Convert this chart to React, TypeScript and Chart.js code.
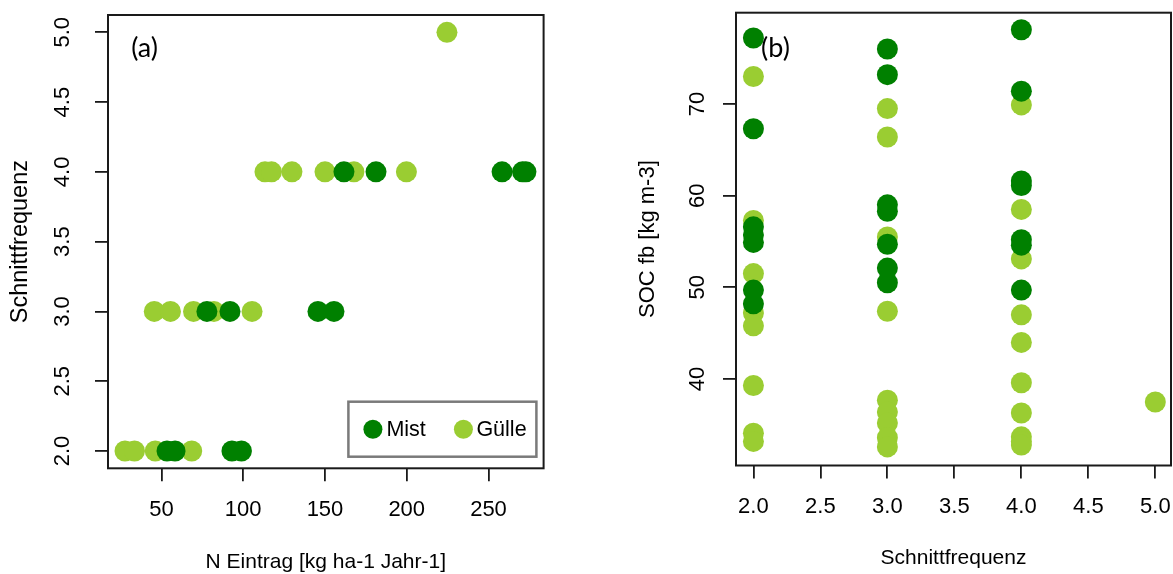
import React, { useEffect, useRef } from "react";
import { Chart, registerables } from "chart.js";

Chart.register(...registerables);

const FONT = "'Liberation Sans', Arial, sans-serif";
const PANEL_FONT = "Lato, 'Open Sans', sans-serif";
const MIST_COLOR = "#008000";
const GUELLE_COLOR = "#9ACD32";
const AXIS_COLOR = "#1a1a1a";
const SERIES_NAMES = ["Mist", "Gülle"];

// ---------- Panel (a): N Eintrag vs Schnittfrequenz ----------
const mistA_nEintrag = [53.4, 58.3, 93.1, 98.9, 77.8, 91.9, 145.7, 155.5, 161.6, 181.2, 258.3, 270.8, 272.9];
const mistA_schnitt = [2, 2, 2, 2, 3, 3, 3, 3, 4, 4, 4, 4, 4];
const guelleA_nEintrag = [27.7, 33.5, 46.2, 68.5, 45.6, 55.5, 69.6, 82.1, 105.4, 113.3, 117.3, 129.8, 150.0, 167.7, 199.8, 224.6];
const guelleA_schnitt = [2, 2, 2, 2, 3, 3, 3, 3, 3, 4, 4, 4, 4, 4, 4, 5];
const xTicksA = [50, 100, 150, 200, 250];
const yTicksA = [2.0, 2.5, 3.0, 3.5, 4.0, 4.5, 5.0];
const xRangeA = [17.3, 283.7];
const yRangeA = [1.876, 5.124];
const xTitleA = "N Eintrag [kg ha-1 Jahr-1]";
const yTitleA = "Schnittfrequenz";

// ---------- Panel (b): Schnittfrequenz vs SOC fb ----------
const mistB_schnitt = [2, 2, 2, 2, 2, 2, 2, 3, 3, 3, 3, 3, 3, 3, 4, 4, 4, 4, 4, 4, 4];
const mistB_soc = [77.2, 67.3, 56.6, 55.7, 54.9, 49.7, 48.2, 76.0, 73.2, 59.0, 58.3, 54.7, 52.1, 50.5, 78.1, 71.4, 61.6, 61.1, 55.2, 54.6, 49.7];
const guelleB_schnitt = [2, 2, 2, 2, 2, 2, 2, 2, 3, 3, 3, 3, 3, 3, 3, 3, 3, 4, 4, 4, 4, 4, 4, 4, 4, 4, 4, 5];
const guelleB_soc = [73.0, 57.3, 51.5, 47.2, 45.8, 39.3, 34.1, 33.2, 69.5, 66.4, 55.5, 47.4, 37.7, 36.4, 35.2, 33.6, 32.6, 69.9, 58.5, 53.1, 47.0, 44.0, 39.6, 36.3, 33.7, 33.2, 32.8, 37.5];
const xTicksB = [2.0, 2.5, 3.0, 3.5, 4.0, 4.5, 5.0];
const yTicksB = [40, 50, 60, 70];
const xRangeB = [1.87, 5.117];
const yRangeB = [30.57, 79.96];
const xTitleB = "Schnittfrequenz";
const yTitleB = "SOC fb [kg m-3]";

const toPoints = (xs: number[], ys: number[]) => xs.map((x, i) => ({ x, y: ys[i] }));

const decorPlugin = {
  id: "decor",
  afterDraw(chart: any, _args: any, o: any) {
    const { ctx, chartArea: ca } = chart;
    ctx.save();
    // plot box
    ctx.strokeStyle = AXIS_COLOR;
    ctx.lineWidth = 2;
    ctx.strokeRect(ca.left, ca.top, ca.right - ca.left, ca.bottom - ca.top);

    // rotated y tick labels (R style), positioned by the y scale
    const ys = chart.scales.y;
    ctx.fillStyle = "#000";
    ctx.font = `22px ${FONT}`;
    ctx.textAlign = "center";
    ctx.textBaseline = "middle";
    ys.ticks.forEach((t: any) => {
      const py = ys.getPixelForValue(t.value);
      ctx.save();
      ctx.translate(ca.left - o.yLabelOffset, py);
      ctx.rotate(-Math.PI / 2);
      ctx.fillText(o.yFmt(t.value), 0, 0);
      ctx.restore();
    });

    // panel label
    ctx.font = `27px ${PANEL_FONT}`;
    ctx.fillStyle = "#000";
    ctx.fillText(o.panelLabel, ca.left + o.panelDx, ca.top + o.panelDy);

    // legend
    if (o.legend) {
      const w = 188;
      const h = 55;
      const right = ca.right - 7.2;
      const bottom = ca.bottom - 11.6;
      const left = right - w;
      const top = bottom - h;
      ctx.fillStyle = "#fff";
      ctx.fillRect(left, top, w, h);
      ctx.strokeStyle = "#7a7a7a";
      ctx.lineWidth = 2.5;
      ctx.strokeRect(left, top, w, h);
      const cy = top + h / 2;
      const items = [
        { dx: 24.5, tx: 38, color: chart.data.datasets[0].backgroundColor, text: chart.data.datasets[0].label },
        { dx: 115, tx: 128, color: chart.data.datasets[1].backgroundColor, text: chart.data.datasets[1].label },
      ];
      ctx.font = `21.5px ${FONT}`;
      ctx.textAlign = "left";
      ctx.textBaseline = "middle";
      items.forEach((it) => {
        ctx.beginPath();
        ctx.fillStyle = it.color;
        ctx.arc(left + it.dx, cy, 9.5, 0, Math.PI * 2);
        ctx.fill();
        ctx.fillStyle = "#000";
        ctx.fillText(it.text, left + it.tx, cy + 1);
      });
    }
    ctx.restore();
  },
};

function buildConfig(p: any) {
  const H = 574;
  const gridOpts = {
    display: true,
    drawOnChartArea: false,
    drawTicks: true,
    tickLength: 13,
    color: AXIS_COLOR,
    tickColor: AXIS_COLOR,
    lineWidth: 1.8,
    tickWidth: 1.8,
  };
  return {
    type: "scatter" as const,
    data: {
      datasets: [
        {
          label: SERIES_NAMES[0],
          data: toPoints(p.mistX, p.mistY),
          backgroundColor: MIST_COLOR,
          borderWidth: 0,
          pointRadius: 10.5,
          pointHoverRadius: 10.5,
          clip: false,
        },
        {
          label: SERIES_NAMES[1],
          data: toPoints(p.guelleX, p.guelleY),
          backgroundColor: GUELLE_COLOR,
          borderWidth: 0,
          pointRadius: 10.5,
          pointHoverRadius: 10.5,
          clip: false,
        },
      ],
    },
    options: {
      responsive: false,
      animation: false,
      devicePixelRatio: 1,
      events: [],
      layout: {
        autoPadding: false,
        padding: { left: 0, top: p.area.top, right: p.width - p.area.right, bottom: 0 },
      },
      plugins: {
        legend: { display: false },
        tooltip: { enabled: false },
        decor: {
          yLabelOffset: p.yLabelOffset,
          yFmt: p.yFmt,
          panelLabel: p.panelLabel,
          panelDx: p.panelDx,
          panelDy: p.panelDy,
          legend: p.legend,
        },
      },
      scales: {
        x: {
          type: "linear",
          position: "bottom",
          min: p.xRange[0],
          max: p.xRange[1],
          afterBuildTicks: (s: any) => {
            s.ticks = p.xTicks.map((v: number) => ({ value: v }));
          },
          afterFit: (s: any) => {
            s.height = H - p.area.bottom;
            s.paddingLeft = 0;
            s.paddingRight = 0;
          },
          grid: gridOpts,
          border: { display: false },
          ticks: {
            callback: (v: number) => p.xFmt(v),
            font: { family: FONT, size: 22, lineHeight: 1 },
            color: "#000",
            padding: 17.7,
            maxRotation: 0,
            minRotation: 0,
            autoSkip: false,
          },
          title: {
            display: true,
            text: p.xTitle,
            color: "#000",
            font: { family: FONT, size: 21, lineHeight: 1 },
            padding: { top: 0, bottom: p.xTitlePad },
          },
        },
        y: {
          type: "linear",
          position: "left",
          min: p.yRange[0],
          max: p.yRange[1],
          afterBuildTicks: (s: any) => {
            s.ticks = p.yTicks.map((v: number) => ({ value: v }));
          },
          afterFit: (s: any) => {
            s.width = p.area.left;
            s.paddingTop = 0;
            s.paddingBottom = 0;
          },
          grid: gridOpts,
          border: { display: false },
          ticks: { display: false, callback: (v: number) => p.yFmt(v) },
          title: {
            display: true,
            text: p.yTitle,
            color: "#000",
            font: { family: FONT, size: p.yTitleSize, lineHeight: 1 },
            padding: { top: p.yTitlePad, bottom: 0 },
          },
        },
      },
    },
    plugins: [decorPlugin],
  };
}

const panelA = {
  width: 580,
  area: { left: 108, right: 543.6, top: 15, bottom: 468.3 },
  mistX: mistA_nEintrag,
  mistY: mistA_schnitt,
  guelleX: guelleA_nEintrag,
  guelleY: guelleA_schnitt,
  xRange: xRangeA,
  yRange: yRangeA,
  xTicks: xTicksA,
  yTicks: yTicksA,
  xFmt: (v: number) => String(v),
  yFmt: (v: number) => v.toFixed(1),
  xTitle: xTitleA,
  yTitle: yTitleA,
  xTitlePad: 0.8,
  yTitleSize: 23.5,
  yTitlePad: 9,
  yLabelOffset: 44.7,
  panelLabel: "(a)",
  panelDx: 36.6,
  panelDy: 33,
  legend: true,
};

const panelB = {
  width: 593,
  area: { left: 156, right: 591, top: 12.7, bottom: 465.5 },
  mistX: mistB_schnitt,
  mistY: mistB_soc,
  guelleX: guelleB_schnitt,
  guelleY: guelleB_soc,
  xRange: xRangeB,
  yRange: yRangeB,
  xTicks: xTicksB,
  yTicks: yTicksB,
  xFmt: (v: number) => v.toFixed(1),
  yFmt: (v: number) => String(v),
  xTitle: xTitleB,
  yTitle: yTitleB,
  xTitlePad: 5.2,
  yTitleSize: 22,
  yTitlePad: 56.5,
  yLabelOffset: 38.2,
  panelLabel: "(b)",
  panelDx: 39.5,
  panelDy: 35.3,
  legend: false,
};

function Panel({ spec, left }: { spec: any; left: number }) {
  const ref = useRef<HTMLCanvasElement | null>(null);
  useEffect(() => {
    if (!ref.current) return;
    const chart = new Chart(ref.current, buildConfig(spec) as any);
    return () => chart.destroy();
  }, [spec]);
  return (
    <canvas
      ref={ref}
      width={spec.width}
      height={574}
      style={{ position: "absolute", left, top: 0, width: spec.width, height: 574 }}
    />
  );
}

export default function App() {
  return (
    <div style={{ position: "absolute", left: 0, top: 0, width: 1173, height: 574, background: "#fff" }}>
      <Panel spec={panelA} left={0} />
      <Panel spec={panelB} left={580} />
    </div>
  );
}
